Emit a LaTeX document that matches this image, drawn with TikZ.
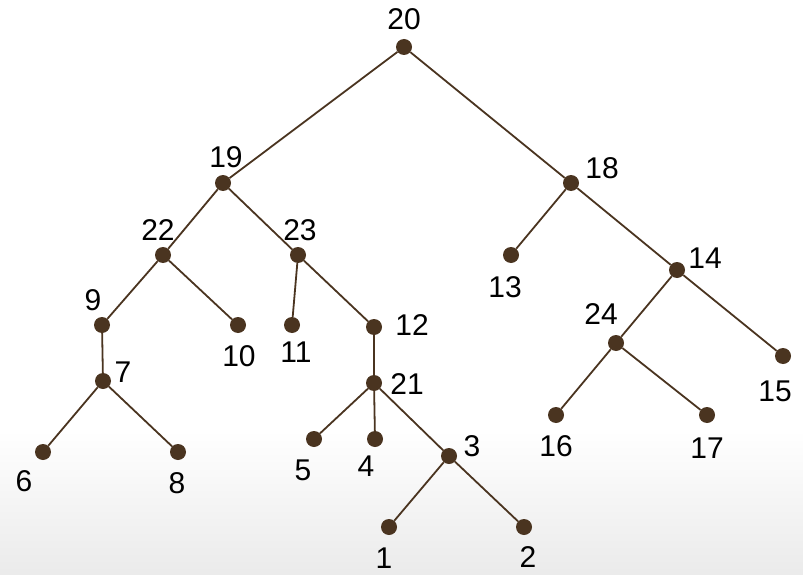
\documentclass[tikz,border=0pt]{standalone}
\usepackage{fontspec}
\setmainfont{Liberation Sans}
\usetikzlibrary{positioning}
\definecolor{treebrown}{HTML}{4A3420}

\begin{document}
\begin{tikzpicture}[x=1pt, y=-1pt, font=\fontsize{30}{30}\selectfont,
    dot/.style={circle, fill=treebrown, inner sep=0pt, minimum size=16pt},
    lbl/.style={inner sep=0pt},
    link/.style={draw=treebrown, line width=1.8pt}]
    \useasboundingbox (0,0) rectangle (803,575);
    \shade[top color=white, bottom color=black!8] (0,430) rectangle (803,575);

    % dots
    \node[dot] (n20) at (404,47) {};
    \node[dot] (n19) at (223,183) {};
    \node[dot] (n18) at (571,183) {};
    \node[dot] (n22) at (163,255) {};
    \node[dot] (n23) at (298,255) {};
    \node[dot] (n13) at (511,255) {};
    \node[dot] (n14) at (677,270) {};
    \node[dot] (n9) at (102,325) {};
    \node[dot] (n10) at (238,325) {};
    \node[dot] (n11) at (292,325) {};
    \node[dot] (n12) at (374,327) {};
    \node[dot] (n24) at (616,343) {};
    \node[dot] (n15) at (783,356) {};
    \node[dot] (n7) at (103,381) {};
    \node[dot] (n21) at (374,383) {};
    \node[dot] (n6) at (43,452) {};
    \node[dot] (n8) at (178,452) {};
    \node[dot] (n5) at (314,439) {};
    \node[dot] (n4) at (375,439) {};
    \node[dot] (n3) at (449,456) {};
    \node[dot] (n16) at (556,415) {};
    \node[dot] (n17) at (707,415) {};
    \node[dot] (n1) at (389,527) {};
    \node[dot] (n2) at (524,527) {};

    % links
    \draw[link] (n20) -- (n19);
    \draw[link] (n20) -- (n18);
    \draw[link] (n19) -- (n22);
    \draw[link] (n19) -- (n23);
    \draw[link] (n22) -- (n9);
    \draw[link] (n22) -- (n10);
    \draw[link] (n9) -- (n7);
    \draw[link] (n7) -- (n6);
    \draw[link] (n7) -- (n8);
    \draw[link] (n23) -- (n11);
    \draw[link] (n23) -- (n12);
    \draw[link] (n12) -- (n21);
    \draw[link] (n21) -- (n5);
    \draw[link] (n21) -- (n4);
    \draw[link] (n21) -- (n3);
    \draw[link] (n3) -- (n1);
    \draw[link] (n3) -- (n2);
    \draw[link] (n18) -- (n13);
    \draw[link] (n18) -- (n14);
    \draw[link] (n14) -- (n24);
    \draw[link] (n14) -- (n15);
    \draw[link] (n24) -- (n16);
    \draw[link] (n24) -- (n17);

    % labels
    \node[lbl] (l20) at (404,19) {20};
    \node[lbl] (l19) at (226,157) {19};
    \node[lbl] (l18) at (602,168) {18};
    \node[lbl] (l22) at (158,230) {22};
    \node[lbl] (l23) at (300,230) {23};
    \node[lbl] (l13) at (505,287) {13};
    \node[lbl] (l14) at (705,258) {14};
    \node[lbl] (l9) at (93,300) {9};
    \node[lbl] (l10) at (239,356) {10};
    \node[lbl] (l11) at (296,352) {11};
    \node[lbl] (l12) at (412,325) {12};
    \node[lbl] (l24) at (601,314) {24};
    \node[lbl] (l15) at (775,391) {15};
    \node[lbl] (l7) at (123,372) {7};
    \node[lbl] (l21) at (407,384) {21};
    \node[lbl] (l6) at (24,481) {6};
    \node[lbl] (l8) at (177,483) {8};
    \node[lbl] (l5) at (303,470) {5};
    \node[lbl] (l4) at (366,466) {4};
    \node[lbl] (l3) at (472,446) {3};
    \node[lbl] (l16) at (556,446) {16};
    \node[lbl] (l17) at (707,448) {17};
    \node[lbl] (l1) at (384,558) {1};
    \node[lbl] (l2) at (528,557) {2};
\end{tikzpicture}
\end{document}
